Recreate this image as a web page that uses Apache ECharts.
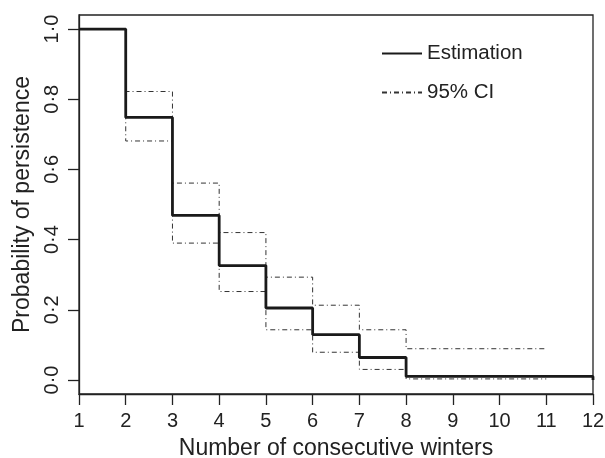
<!DOCTYPE html>
<html><head><meta charset="utf-8">
<script src="https://cdn.jsdelivr.net/npm/echarts@6/dist/echarts.min.js"></script>
<style>html,body{margin:0;padding:0;background:#fff}#c{width:605px;height:458px}</style>
</head><body><div id="c"></div>
<script>
const winters = [1,2,3,4,5,6,7,8,9,10,11,12];
const estimation = [1.0,0.748,0.469,0.326,0.205,0.129,0.064,0.010,0.010,0.010,0.010,0.0];
const ciUpper = [1.0,0.822,0.561,0.420,0.293,0.213,0.143,0.089,0.089,0.089,0.089];
const ciLower = [1.0,0.681,0.390,0.252,0.143,0.079,0.030,0.003,0.003,0.003,0.003];
const yTicks = [0,0.2,0.4,0.6,0.8,1.0];

const pairs = (ys) => ys.map((v,i)=>[winters[i], v]);
const FONT = '"Liberation Sans", Arial, sans-serif';
const ciStyle = {color:'#333', width:1, type:[5,3,1,3]};

const chart = echarts.init(document.getElementById('c'), null, {renderer:'canvas'});
chart.setOption({
  animation:false,
  backgroundColor:'#fff',
  textStyle:{fontFamily:FONT},
  grid:{left:79, right:12, top:15, bottom:64, show:true, borderColor:'#222', borderWidth:1.3,
        containLabel:false, outerBoundsMode:'none'},
  legend:{
    data:['Estimation','95% CI'],
    orient:'vertical', left:376, top:38, itemGap:18,
    itemWidth:40, itemHeight:20,
    itemStyle:{opacity:0},
    textStyle:{fontFamily:FONT, fontSize:20.5, color:'#222', padding:[0,0,0,0]},
    selectedMode:false
  },
  xAxis:{
    type:'value', min:1, max:12, interval:1,
    name:'Number of consecutive winters', nameLocation:'middle', nameGap:43,
    nameTextStyle:{fontFamily:FONT, fontSize:23, color:'#222'},
    axisLine:{show:true, onZero:false, lineStyle:{color:'#222', width:1.3}},
    axisTick:{show:true, inside:false, length:11, lineStyle:{color:'#222', width:1.3}},
    axisLabel:{fontFamily:FONT, fontSize:20, color:'#222', margin:17},
    splitLine:{show:false}
  },
  yAxis:{
    type:'value', min:-0.04, max:1.04,
    name:'Probability of persistence', nameLocation:'middle', nameGap:44,
    nameTextStyle:{fontFamily:FONT, fontSize:23, color:'#222'},
    axisLine:{show:true, onZero:false, lineStyle:{color:'#222', width:1.3}},
    axisTick:{show:true, length:11, customValues:yTicks, lineStyle:{color:'#222', width:1.3}},
    axisLabel:{fontFamily:FONT, fontSize:20, color:'#222', margin:17, rotate:90,
      customValues:yTicks, formatter:(v)=>v.toFixed(1).replace('.', '\u00B7')},
    splitLine:{show:false}
  },
  series:[
    {name:'95% CI', type:'line', step:'end', data:pairs(ciUpper), symbol:'none', lineStyle:ciStyle, itemStyle:{color:'#333'}, z:2},
    {name:'95% CI', type:'line', step:'end', data:pairs(ciLower), symbol:'none', lineStyle:ciStyle, itemStyle:{color:'#333'}, z:2},
    {name:'Estimation', type:'line', step:'end', data:pairs(estimation), symbol:'none', lineStyle:{color:'#1a1a1a', width:2.8}, itemStyle:{color:'#222'}, z:3}
  ]
});
</script></body></html>
